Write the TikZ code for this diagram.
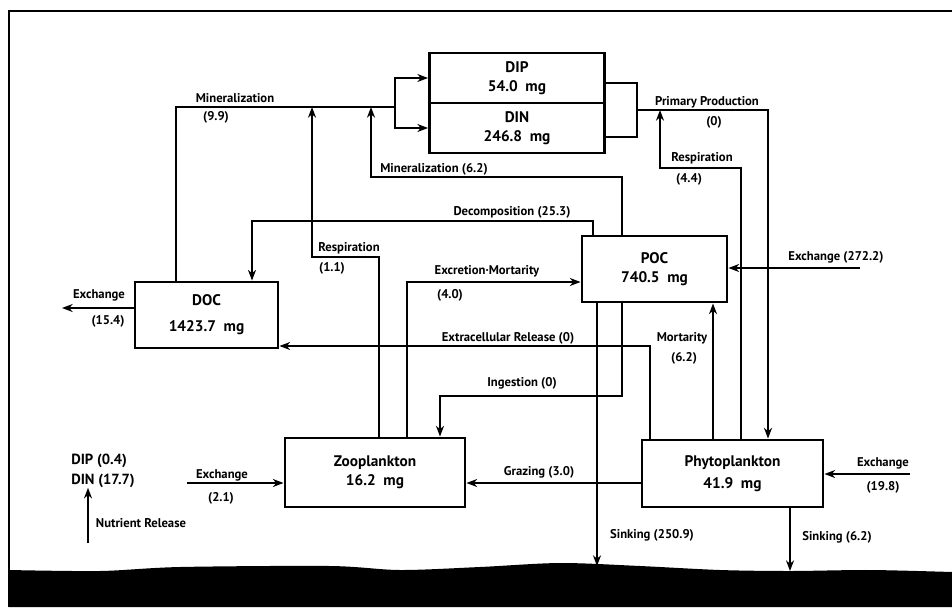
\documentclass[tikz,border=0pt]{standalone}
\usepackage{fontspec}
\setmainfont{PT Sans}
\usetikzlibrary{arrows.meta,calc}
\begin{document}
\begin{tikzpicture}[x=0.75pt,y=-0.75pt,
  box/.style={draw,line width=2.2pt,rectangle,inner sep=0pt,align=center,font=\fontsize{11.5}{14.5}\selectfont\bfseries},
  lbl/.style={inner sep=0pt,font=\fontsize{9.5}{11}\selectfont\bfseries},
  conn/.style={line width=1.1pt},
  arr/.style={conn,-{Stealth[length=8pt,width=6pt,inset=2.5pt]}}]
\useasboundingbox (0,0) rectangle (952,607);
% frame and sea floor
\draw[line width=1.6pt] (9,607) -- (9,11) -- (952,11);
\fill[black] plot[smooth] coordinates {(9,570) (100,571) (180,567) (330,566) (400,570) (480,567) (560,563) (640,566) (720,570) (790,571) (870,570) (952,572)} -- (952,607) -- (9,607) -- cycle;

% boxes
\node[box,minimum width=131.25pt,minimum height=37.5pt] (DIP) at (517,78) {DIP\\54.0\enspace mg};
\node[box,minimum width=131.25pt,minimum height=37.5pt] (DIN) at (517,128) {DIN\\246.8\enspace mg};
\node[draw,line width=1.3pt,minimum width=24pt,minimum height=40.5pt,inner sep=0pt] (brk) at (621,110) {};
\node[box,minimum width=107.25pt,minimum height=49.5pt] (DOC) at (206.5,315) {DOC\\[5pt]1423.7\enspace mg};
\node[box,minimum width=108.75pt,minimum height=49.5pt] (POC) at (654.5,269) {POC\\740.5\enspace mg};
\node[box,minimum width=135pt,minimum height=51.75pt] (ZOO) at (375,472.5) {Zooplankton\\16.2\enspace mg};
\node[box,minimum width=135.75pt,minimum height=50.25pt] (PHY) at (732.5,473.5) {Phytoplankton\\[2pt]41.9\enspace mg};
\node[lbl,align=left,font=\fontsize{11}{14.5}\selectfont\bfseries] (nutr) at (103,471) {DIP (0.4)\\DIN (17.7)};

% junction coordinates
\coordinate (c176) at (176,107);
\coordinate (jL) at (395,107);
\coordinate (r1) at (379,257);
\coordinate (m1) at (312,107);
\coordinate (m62) at (622,177);
\coordinate (m2) at (371,107);
\coordinate (d1) at (593,221);
\coordinate (d2) at (252,221);
\coordinate (e1) at (407,282);
\coordinate (x1) at (650,346);
\coordinate (mo) at (713,370);
\coordinate (i1) at (622,396);
\coordinate (i2) at (440,396);
\coordinate (s1) at (597,566);
\coordinate (s2) at (790,571);
\coordinate (p1) at (768,111);
\coordinate (r4) at (741,168);
\coordinate (r5) at (660,111);
\coordinate (ex1) at (860,268);
\coordinate (ex2) at (910,474);
\coordinate (g1) at (550,483);
\coordinate (ex3) at (187,483);
\coordinate (ex4) at (62,308);
\coordinate (nr1) at (88,543);

% connectors
\draw[conn] (c176 |- DOC.north) -- (c176) -- (jL);
\draw[arr] (jL) |- (DIP.west);
\draw[arr] (jL) |- (DIN.west);
\draw[arr] (r1 |- ZOO.north) -- (r1) -| (m1);
\draw[arr] (m62 |- POC.north) -- (m62) -| (m2);
\draw[arr] (d1 |- POC.north) -- (d1) -| (d2 |- DOC.north);
\draw[arr] (e1 |- ZOO.north) -- (e1) -- (e1 -| POC.west);
\draw[arr] (x1 |- PHY.north) -- (x1) -- (x1 -| DOC.east);
\draw[arr] (mo |- PHY.north) -- (mo |- POC.south);
\draw[arr] (i1 |- POC.south) -- (i1) -| (i2 |- ZOO.north);
\draw[arr] (s1 |- POC.south) -- (s1);
\draw[arr] (s2 |- PHY.south) -- (s2);
\draw[arr] (brk.east) -| (p1 |- PHY.north);
\draw[arr] (r4 |- PHY.north) -- (r4) -| (r5 |- brk.east);
\draw[arr] (ex1) -- (ex1 -| POC.east);
\draw[arr] (ex2) -- (ex2 -| PHY.east);
\draw[arr] (g1 -| PHY.west) -- (g1 -| ZOO.east);
\draw[arr] (ex3) -- (ex3 -| ZOO.west);
\draw[arr] (ex4 -| DOC.west) -- (ex4);
\draw[arr] (nr1) -- (nr1 |- nutr.south);

% labels
\node[lbl] (l1) at (235,98) {Mineralization};
\node[lbl] (l1b) at (216,117) {(9.9)};
\node[lbl] (l2) at (434,169) {Mineralization (6.2)};
\node[lbl] (l3) at (349,248) {Respiration};
\node[lbl] (l3b) at (332,268) {(1.1)};
\node[lbl] (l4) at (512,212) {Decomposition (25.3)};
\node[lbl] (l5) at (487,271) {Excretion·Mortarity};
\node[lbl] (l5b) at (450,295) {(4.0)};
\node[lbl] (l6) at (508,338) {Extracellular Release (0)};
\node[lbl] (l7) at (522,383) {Ingestion (0)};
\node[lbl] (l8) at (682,338) {Mortarity};
\node[lbl] (l8b) at (684,358) {(6.2)};
\node[lbl] (l9) at (707,102) {Primary Production};
\node[lbl] (l9b) at (714,122) {(0)};
\node[lbl] (l10) at (702,158) {Respiration};
\node[lbl] (l10b) at (689,179) {(4.4)};
\node[lbl] (l11) at (836,257) {Exchange (272.2)};
\node[lbl] (l12) at (883,463) {Exchange};
\node[lbl] (l12b) at (883,487) {(19.8)};
\node[lbl] (l13) at (539,472) {Grazing (3.0)};
\node[lbl] (l14) at (652,535) {Sinking (250.9)};
\node[lbl] (l15) at (837,537) {Sinking (6.2)};
\node[lbl] (l16) at (222,475) {Exchange};
\node[lbl] (l16b) at (221,498) {(2.1)};
\node[lbl] (l17) at (99,295) {Exchange};
\node[lbl] (l17b) at (108,321) {(15.4)};
\node[lbl] (l18) at (141,523) {Nutrient Release};
\end{tikzpicture}
\end{document}
